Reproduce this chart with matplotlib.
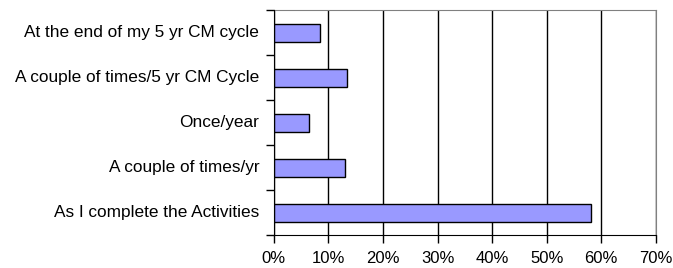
import matplotlib
matplotlib.use("Agg")
import matplotlib.pyplot as plt
from matplotlib.ticker import FuncFormatter, FixedLocator

plt.rcParams['font.family'] = ['Liberation Sans', 'DejaVu Sans']

categories = ['As I complete the Activities', 'A couple of times/yr', 'Once/year',
              'A couple of times/5 yr CM Cycle', 'At the end of my 5 yr CM cycle']
values = [58.1, 13.1, 6.5, 13.5, 8.4]
xticks = [0, 10, 20, 30, 40, 50, 60, 70]

fig = plt.figure(figsize=(6.73, 2.68), dpi=100)
ax = fig.add_axes([273.7 / 673, 1 - 235.3 / 268, (655.9 - 273.7) / 673, (235.3 - 10) / 268])

pos = range(len(categories))
ax.barh(pos, values, height=0.4, color='#9999FF', edgecolor='black', linewidth=1, zorder=3)

ax.set_xlim(0, 70)
ax.set_ylim(-0.5, len(categories) - 0.5)
ax.set_xticks(xticks)
ax.xaxis.set_major_formatter(FuncFormatter(lambda v, p: f'{v:.0f}%'))
ax.set_yticks([])
ax.yaxis.set_minor_locator(FixedLocator([i - 0.5 for i in range(len(categories) + 1)]))
ax.tick_params(axis='y', which='minor', length=6, width=1, direction='out', color='black')
for i, c in enumerate(categories):
    ax.text(-14.5 / 5.46, i, c, ha='right', va='center', fontsize=12.4)
ax.tick_params(axis='x', length=6, width=1, direction='out', pad=5, labelsize=12)
ax.grid(axis='x', color='black', linewidth=1, zorder=0)

for s in ['top', 'right']:
    ax.spines[s].set_color('#808080')
for s in ['left', 'bottom']:
    ax.spines[s].set_color('black')
    ax.spines[s].set_zorder(4)

fig.savefig('out.png', dpi=100)
